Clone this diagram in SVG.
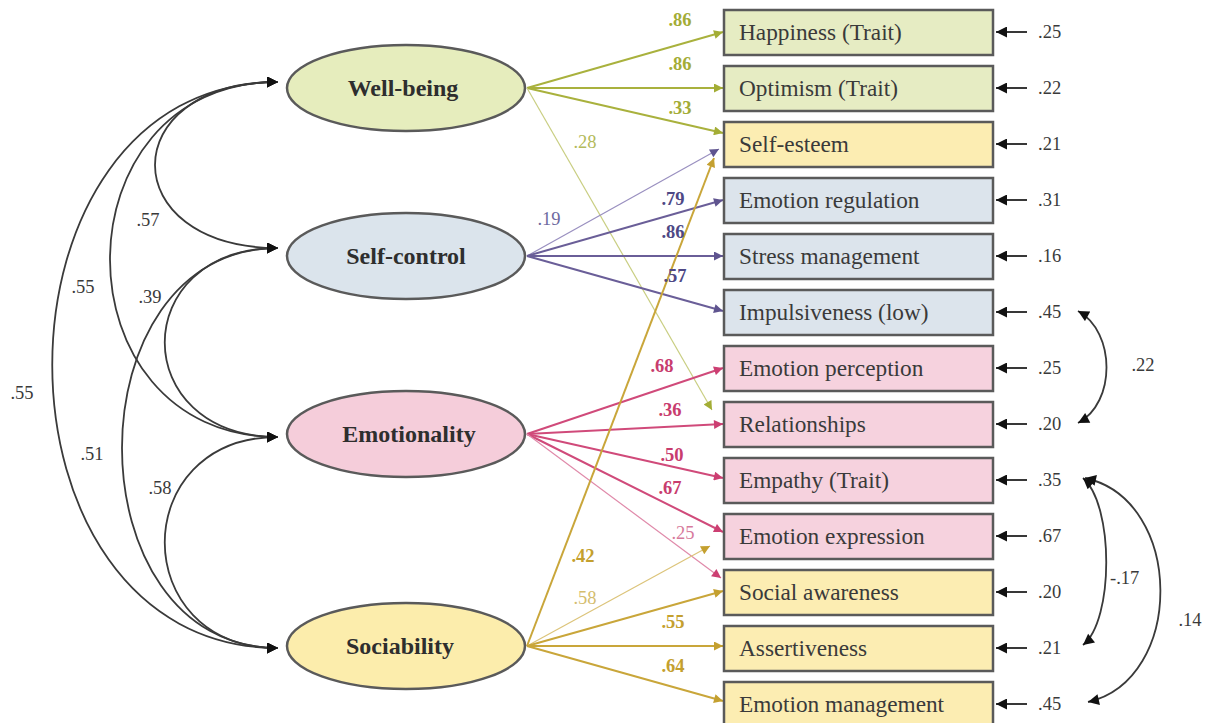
<svg xmlns="http://www.w3.org/2000/svg" width="1205" height="723" viewBox="0 0 1205 723">
<style>
.bx{stroke:#5a5a5a;stroke-width:2.5}
.el{stroke:#5a5a5a;stroke-width:2.5}
.bt{font-family:"Liberation Serif",serif;font-size:23.3px;fill:#3a3a3a}
.lt{font-family:"Liberation Serif",serif;font-size:24px;font-weight:bold;fill:#2e2e2e;text-anchor:middle}
.nv{font-family:"Liberation Serif",serif;font-size:18.5px;fill:#3a3a3a}
.pl{font-family:"Liberation Serif",serif;font-size:18.5px;font-weight:bold;text-anchor:middle}
.cl{font-family:"Liberation Serif",serif;font-size:18.5px;text-anchor:middle}
.cov{fill:none;stroke:#3a3a3a;stroke-width:1.8;marker-start:url(#ak);marker-end:url(#ak)}
.err{stroke:#222;stroke-width:1.8;marker-end:url(#ak)}
.wb{stroke:#a9b13d;stroke-width:2;marker-end:url(#ag)}
.wbx{stroke:#c9ce82;stroke-width:1.2;marker-end:url(#ag)}
.sc{stroke:#6a5e98;stroke-width:2;marker-end:url(#ap)}
.scx{stroke:#9a90c0;stroke-width:1.2;marker-end:url(#ap)}
.em{stroke:#d04a7a;stroke-width:2;marker-end:url(#ar)}
.emx{stroke:#e08aaa;stroke-width:1.2;marker-end:url(#ar)}
.so{stroke:#c9a63a;stroke-width:2;marker-end:url(#ay)}
.sox{stroke:#dcc47a;stroke-width:1.2;marker-end:url(#ay)}
</style>
<defs>
<marker id="ak" viewBox="0 0 10 10" refX="10" refY="5" markerWidth="13" markerHeight="11" markerUnits="userSpaceOnUse" orient="auto-start-reverse"><path d="M0,0 L10,5 L0,10 z" fill="#111"/></marker>
<marker id="ag" viewBox="0 0 10 10" refX="10" refY="5" markerWidth="11" markerHeight="9" markerUnits="userSpaceOnUse" orient="auto"><path d="M0,0 L10,5 L0,10 z" fill="#a3ad35"/></marker>
<marker id="ap" viewBox="0 0 10 10" refX="10" refY="5" markerWidth="11" markerHeight="9" markerUnits="userSpaceOnUse" orient="auto"><path d="M0,0 L10,5 L0,10 z" fill="#5f548f"/></marker>
<marker id="ar" viewBox="0 0 10 10" refX="10" refY="5" markerWidth="11" markerHeight="9" markerUnits="userSpaceOnUse" orient="auto"><path d="M0,0 L10,5 L0,10 z" fill="#cc3f72"/></marker>
<marker id="ay" viewBox="0 0 10 10" refX="10" refY="5" markerWidth="11" markerHeight="9" markerUnits="userSpaceOnUse" orient="auto"><path d="M0,0 L10,5 L0,10 z" fill="#c4a030"/></marker>
</defs>

<g id="connectors">
<path class="cov" d="M278,82 C114,82 114,248 278,248"/>
<path class="cov" d="M278,82 C54,82 54,437 278,437"/>
<path class="cov" d="M278,82 C-23,82 -23,648 278,648"/>
<path class="cov" d="M278,248 C127,248 127,437 278,437"/>
<path class="cov" d="M278,248 C70,248 70,648 278,648"/>
<path class="cov" d="M278,437 C127,437 127,648 278,648"/>
<line class="wb" x1="527" y1="88" x2="723" y2="32"/>
<line class="wb" x1="527" y1="88" x2="723" y2="88"/>
<line class="wb" x1="527" y1="88" x2="723" y2="133"/>
<line class="wbx" x1="527" y1="88" x2="712" y2="410"/>
<line class="scx" x1="527" y1="256" x2="719" y2="149"/>
<line class="sc" x1="527" y1="256" x2="723" y2="200"/>
<line class="sc" x1="527" y1="256" x2="723" y2="256"/>
<line class="sc" x1="527" y1="256" x2="723" y2="311"/>
<line class="em" x1="527" y1="434" x2="723" y2="368"/>
<line class="em" x1="527" y1="434" x2="723" y2="424"/>
<line class="em" x1="527" y1="434" x2="723" y2="478"/>
<line class="em" x1="527" y1="434" x2="723" y2="532"/>
<line class="emx" x1="527" y1="434" x2="721" y2="578"/>
<line class="so" x1="527" y1="646" x2="714" y2="158"/>
<line class="sox" x1="527" y1="646" x2="710" y2="546"/>
<line class="so" x1="527" y1="646" x2="723" y2="591"/>
<line class="so" x1="527" y1="646" x2="723" y2="646"/>
<line class="so" x1="527" y1="646" x2="723" y2="701"/>
<line class="err" x1="1027" y1="32" x2="996" y2="32"/>
<line class="err" x1="1027" y1="88" x2="996" y2="88"/>
<line class="err" x1="1027" y1="144" x2="996" y2="144"/>
<line class="err" x1="1027" y1="200" x2="996" y2="200"/>
<line class="err" x1="1027" y1="256" x2="996" y2="256"/>
<line class="err" x1="1027" y1="312" x2="996" y2="312"/>
<line class="err" x1="1027" y1="368" x2="996" y2="368"/>
<line class="err" x1="1027" y1="424" x2="996" y2="424"/>
<line class="err" x1="1027" y1="480" x2="996" y2="480"/>
<line class="err" x1="1027" y1="536" x2="996" y2="536"/>
<line class="err" x1="1027" y1="592" x2="996" y2="592"/>
<line class="err" x1="1027" y1="648" x2="996" y2="648"/>
<line class="err" x1="1027" y1="704" x2="996" y2="704"/>
<path class="cov" d="M1078,311 C1116,332 1116,403 1078,423"/>
<path class="cov" d="M1083,478 C1114,505 1114,620 1083,645"/>
<path class="cov" d="M1085,478 C1185,500 1185,680 1088,702"/>
<g class="nv">
<text x="148" y="226" text-anchor="middle">.57</text>
<text x="83" y="293" text-anchor="middle">.55</text>
<text x="150" y="303" text-anchor="middle">.39</text>
<text x="22" y="399" text-anchor="middle">.55</text>
<text x="92" y="460" text-anchor="middle">.51</text>
<text x="160" y="494" text-anchor="middle">.58</text>
<text x="1143" y="371" text-anchor="middle">.22</text>
<text x="1110" y="584">-.17</text>
<text x="1190" y="626" text-anchor="middle">.14</text>
</g>
<g class="pl" fill="#a3ac36">
<text x="680" y="26">.86</text>
<text x="680" y="70">.86</text>
<text x="680" y="114">.33</text>
</g>
<text class="cl" x="585" y="148" fill="#b3ba5a">.28</text>
<text class="cl" x="549" y="225" fill="#6e6aa0">.19</text>
<g class="pl" fill="#4e4885">
<text x="673" y="205">.79</text>
<text x="673" y="238">.86</text>
<text x="675" y="282">.57</text>
</g>
<g class="pl" fill="#c83c6e">
<text x="662" y="372">.68</text>
<text x="670" y="416">.36</text>
<text x="672" y="461">.50</text>
<text x="670" y="494">.67</text>
</g>
<text class="cl" x="683" y="539" fill="#d77a9c">.25</text>
<text class="pl" x="583" y="562" fill="#c4a02e">.42</text>
<text class="cl" x="585" y="604" fill="#d4bd6e">.58</text>
<g class="pl" fill="#c4a02e">
<text x="673" y="628">.55</text>
<text x="673" y="672">.64</text>
</g>
<g class="nv">
<text x="1038" y="38">.25</text>
<text x="1038" y="94">.22</text>
<text x="1038" y="150">.21</text>
<text x="1038" y="206">.31</text>
<text x="1038" y="262">.16</text>
<text x="1038" y="318">.45</text>
<text x="1038" y="374">.25</text>
<text x="1038" y="430">.20</text>
<text x="1038" y="486">.35</text>
<text x="1038" y="542">.67</text>
<text x="1038" y="598">.20</text>
<text x="1038" y="654">.21</text>
<text x="1038" y="710">.45</text>
</g>
</g>

<g id="wellbeing"><ellipse class="el" cx="406" cy="88" rx="119" ry="43" fill="#e6edbd"/><text class="lt" x="403" y="96">Well-being</text></g>
<g id="selfcontrol"><ellipse class="el" cx="406" cy="256" rx="119" ry="43" fill="#dbe4ec"/><text class="lt" x="406" y="264">Self-control</text></g>
<g id="emotionality"><ellipse class="el" cx="406" cy="434" rx="119" ry="43" fill="#f5cdda"/><text class="lt" x="409" y="442">Emotionality</text></g>
<g id="sociability"><ellipse class="el" cx="406" cy="646" rx="119" ry="43" fill="#fcedac"/><text class="lt" x="400" y="654">Sociability</text></g>

<g id="happiness"><rect class="bx" x="724" y="10" width="269" height="45" fill="#e6ecc3"/><text class="bt" x="739" y="40">Happiness (Trait)</text></g>
<g id="optimism"><rect class="bx" x="724" y="66" width="269" height="45" fill="#e6ecc3"/><text class="bt" x="739" y="96">Optimism (Trait)</text></g>
<g id="selfesteem"><rect class="bx" x="724" y="122" width="269" height="45" fill="#fcedb2"/><text class="bt" x="739" y="152">Self-esteem</text></g>
<g id="emotionregulation"><rect class="bx" x="724" y="178" width="269" height="45" fill="#dce4ec"/><text class="bt" x="739" y="208">Emotion regulation</text></g>
<g id="stressmanagement"><rect class="bx" x="724" y="234" width="269" height="45" fill="#dce4ec"/><text class="bt" x="739" y="264">Stress management</text></g>
<g id="impulsiveness"><rect class="bx" x="724" y="290" width="269" height="45" fill="#dce4ec"/><text class="bt" x="739" y="320">Impulsiveness (low)</text></g>
<g id="emotionperception"><rect class="bx" x="724" y="346" width="269" height="45" fill="#f6d2de"/><text class="bt" x="739" y="376">Emotion perception</text></g>
<g id="relationships"><rect class="bx" x="724" y="402" width="269" height="45" fill="#f6d2de"/><text class="bt" x="739" y="432">Relationships</text></g>
<g id="empathy"><rect class="bx" x="724" y="458" width="269" height="45" fill="#f6d2de"/><text class="bt" x="739" y="488">Empathy (Trait)</text></g>
<g id="emotionexpression"><rect class="bx" x="724" y="514" width="269" height="45" fill="#f6d2de"/><text class="bt" x="739" y="544">Emotion expression</text></g>
<g id="socialawareness"><rect class="bx" x="724" y="570" width="269" height="45" fill="#fcedb2"/><text class="bt" x="739" y="600">Social awareness</text></g>
<g id="assertiveness"><rect class="bx" x="724" y="626" width="269" height="45" fill="#fcedb2"/><text class="bt" x="739" y="656">Assertiveness</text></g>
<g id="emotionmanagement"><rect class="bx" x="724" y="682" width="269" height="45" fill="#fcedb2"/><text class="bt" x="739" y="712">Emotion management</text></g>
</svg>
